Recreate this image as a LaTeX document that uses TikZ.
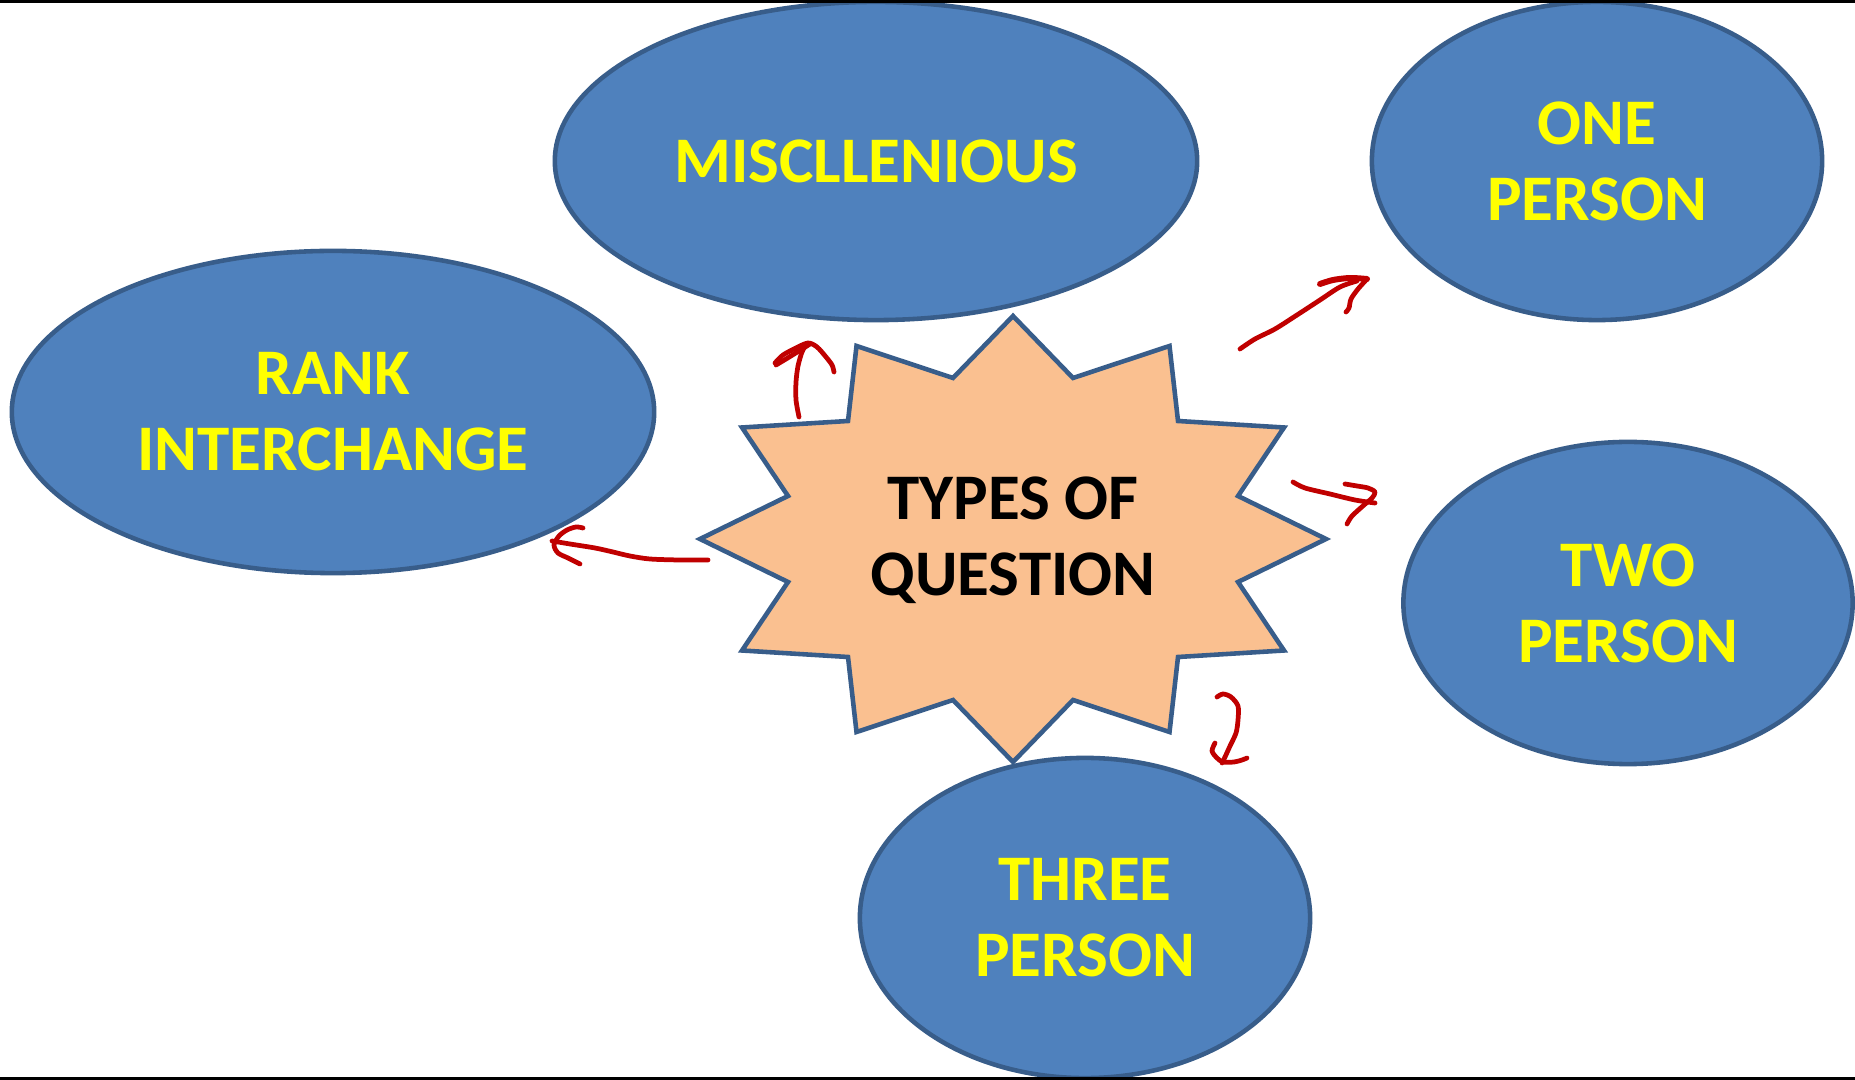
\documentclass[tikz,border=0pt]{standalone}
\usepackage{fontspec}
\newfontfamily\carlito{Carlito}
\usetikzlibrary{shapes.geometric}
\definecolor{ellfill}{HTML}{4F81BD}
\definecolor{ellline}{HTML}{385D8A}
\definecolor{starfill}{HTML}{FAC090}
\definecolor{penred}{HTML}{C00000}
\definecolor{txtyellow}{HTML}{FFFF00}
\tikzset{
  bubble/.style={ellipse, draw=ellline, fill=ellfill, line width=1.3pt, inner sep=0pt,
    align=center, text=txtyellow, font=\carlito\bfseries\fontsize{18.5}{21.6}\selectfont},
  starbox/.style={draw=ellline, fill=starfill, line width=1.3pt, line join=miter},
  startext/.style={align=center, text=black, font=\carlito\bfseries\fontsize{18.5}{21.6}\selectfont},
  pen/.style={draw=penred, line width=1.35pt, line cap=round, line join=round},
  frameline/.style={draw=black, line width=0.9pt}
}
\begin{document}
\begin{tikzpicture}[x=0.01cm,y=-0.01cm]
\useasboundingbox (0,0) rectangle (1855,1080);
\fill[white] (0,0) rectangle (1855,1080);

% ellipses
\node[bubble, minimum width=6.42cm, minimum height=3.18cm] (misc) at (876,161) {MISCLLENIOUS};
\node[bubble, minimum width=4.50cm, minimum height=3.18cm] (one) at (1597,161) {ONE\\PERSON};
\node[bubble, minimum width=6.42cm, minimum height=3.22cm] (rank) at (333,412) {RANK\\INTERCHANGE};
\node[bubble, minimum width=4.49cm, minimum height=3.22cm] (two) at (1628,603) {TWO\\PERSON};
\node[bubble, minimum width=4.50cm, minimum height=3.20cm] (three) at (1085,918) {THREE\\PERSON};

% star
\draw[starbox] (1326,539) -- (1238,496) -- (1284,427.5) -- (1178,421) -- (1169.5,346) -- (1073,378)
  -- (1013,316) -- (953,378) -- (856.5,346) -- (848,421) -- (742,427.5) -- (788,496)
  -- (700,539) -- (788,582) -- (742,650.5) -- (848,657) -- (856.5,732) -- (953,700)
  -- (1013,762) -- (1073,700) -- (1169.5,732) -- (1178,657) -- (1284,650.5) -- (1238,582) -- cycle;
\node[startext] (types) at (1013,540) {TYPES OF\\QUESTION};

% hand-drawn arrows
% up to MISCLLENIOUS
\draw[pen] plot[smooth] coordinates {(799,417) (796,400) (796,382) (798,366) (802,352) (806,345)};
\draw[pen] plot[smooth] coordinates {(776,365) (786,359) (799,351) (810,344)};
\draw[pen] plot[smooth] coordinates {(775,363) (783,355) (796,348) (808,343) (817,347) (826,357) (832,365) (834,372)};
% to ONE PERSON
\draw[pen] plot[smooth] coordinates {(1240,349) (1255,339) (1275,329) (1297,315) (1320,300) (1340,287) (1357,281)};
\draw[pen, line width=1.7pt] plot[smooth] coordinates {(1320,284) (1333,280) (1350,278) (1367,279)};
\draw[pen] plot[smooth] coordinates {(1367,279) (1358,289) (1351,299) (1349,308) (1346,312)};
% to TWO PERSON
\draw[pen] plot[smooth] coordinates {(1293,482) (1305,488) (1330,494) (1355,500) (1375,503)};
\draw[pen] plot[smooth] coordinates {(1345,484) (1357,486) (1368,488) (1375,492) (1372,498) (1364,505) (1352,516) (1347,524)};
% to RANK INTERCHANGE
\draw[pen] plot[smooth] coordinates {(708,560) (680,560) (650,559) (630,556) (613,552) (595,548) (570,544) (552,541)};
\draw[pen] plot[smooth] coordinates {(583,528) (576,527) (567,530) (559,536) (554,545) (558,553) (568,558) (580,564)};
% the "2"
\draw[pen] plot[smooth] coordinates {(1217,697) (1223,694) (1231,697) (1238,706) (1238,720) (1236,733) (1230,746) (1225,757) (1222,763)};
\draw[pen] plot[smooth] coordinates {(1215,743) (1212,751) (1217,758) (1223,762) (1234,762) (1242,760) (1247,758)};

% frame lines
\draw[frameline] (0,1) -- (1855,1);
\draw[frameline] (0,1078.5) -- (1855,1078.5);
\end{tikzpicture}
\end{document}
